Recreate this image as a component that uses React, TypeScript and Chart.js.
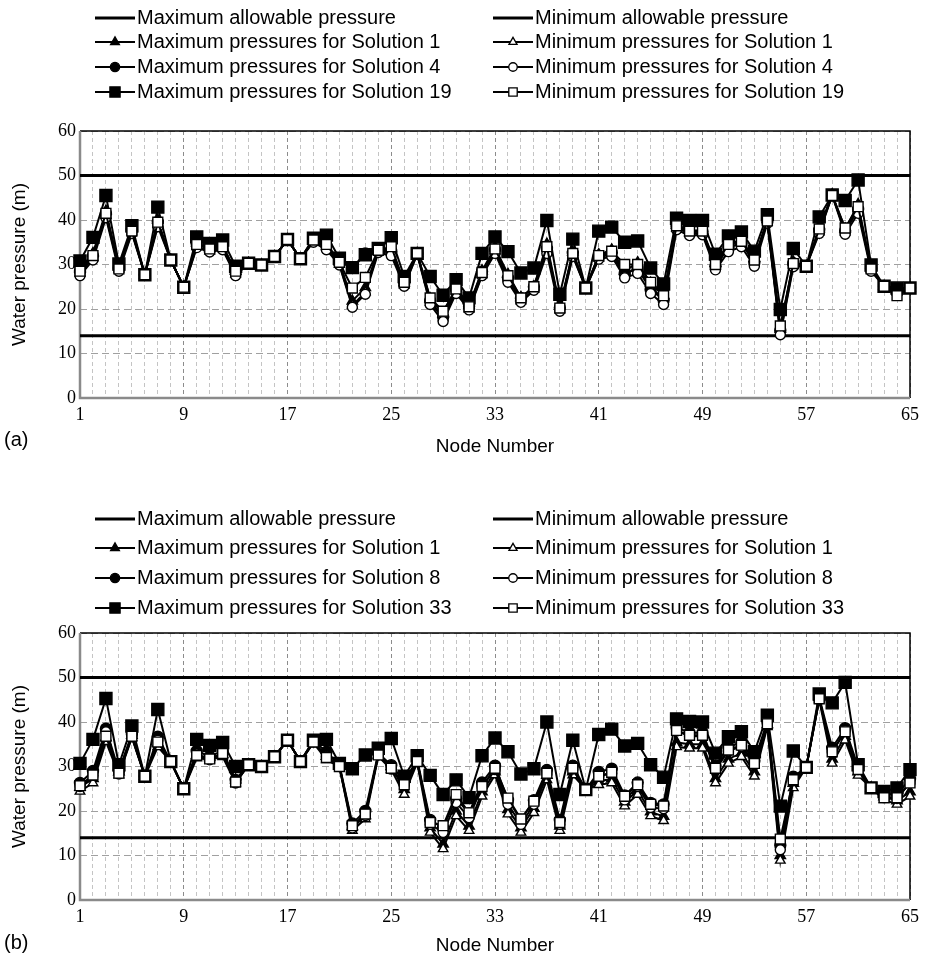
import React, { useEffect, useRef } from 'react';
import { Chart, registerables } from 'chart.js';
import { drawPoint } from 'chart.js/helpers';

Chart.register(...registerables);

const SANS = '"Liberation Sans", Arial, sans-serif';
const SERIF = '"Liberation Serif", "Times New Roman", serif';

// ---------- data ----------
const NODES: number[] = Array.from({ length: 65 }, (_, i) => i + 1);
const TICK_NODES = [1, 9, 17, 25, 33, 41, 49, 57, 65];
const MAX_ALLOWABLE = 50;
const MIN_ALLOWABLE = 14;

const LABELS_A = [
  'Maximum allowable pressure',
  'Minimum allowable pressure',
  'Maximum pressures for Solution 1',
  'Minimum pressures for Solution 1',
  'Maximum pressures for Solution 4',
  'Minimum pressures for Solution 4',
  'Maximum pressures for Solution 19',
  'Minimum pressures for Solution 19',
];
const LABELS_B = [
  'Maximum allowable pressure',
  'Minimum allowable pressure',
  'Maximum pressures for Solution 1',
  'Minimum pressures for Solution 1',
  'Maximum pressures for Solution 8',
  'Minimum pressures for Solution 8',
  'Maximum pressures for Solution 33',
  'Minimum pressures for Solution 33',
];

// Panel (a)
const A_MAX1 = [29, 32.5, 42, 29.5, 38, 27.7, 40, 31, 24.9, 34.8, 33.6, 34.2, 28.5, 30.3, 29.9, 31.8, 35.6, 31.3, 35.6, 34.8, 30.6, 21.8, 24.8, 33.3, 33.6, 25.9, 32.5, 22.3, 19, 24.8, 20.8, 28.6, 33.8, 27.8, 22.6, 25, 34.6, 20.6, 32.8, 24.7, 32.2, 33.3, 28.5, 30.4, 25.8, 23, 38.8, 37.7, 37.6, 30.3, 34.7, 35.4, 31.4, 40.1, 15.5, 30.6, 29.6, 38, 45.7, 38, 43.5, 29.3, 25.1, 24.2, 24.7];
const A_MIN1 = [28, 31.5, 41, 29, 37.3, 27.7, 39, 31, 24.9, 34, 33, 33.6, 27.8, 30.3, 29.9, 31.8, 35.6, 31.3, 35.3, 34, 30, 20.8, 23.8, 33, 32.8, 25.3, 32.4, 21.5, 18, 24, 20, 27.7, 33, 26.8, 21.8, 24.4, 33.8, 19.8, 32.1, 24.7, 31.4, 32.5, 27.5, 29.6, 25, 22.2, 38.2, 37, 37, 29.6, 34, 34.7, 30.7, 39.6, 14.5, 29.9, 29.6, 37.3, 45.6, 37.3, 42.5, 28.8, 25.1, 23.8, 24.7];
const A_MAX4 = [28.5, 32, 41.5, 29.2, 37.8, 27.7, 39.6, 31, 24.9, 34.6, 33.5, 34, 28.2, 30.3, 29.9, 31.8, 35.6, 31.3, 35.5, 34.3, 30.6, 29.3, 32.5, 33.4, 33, 25.8, 32.5, 21.9, 18.2, 24.3, 20.6, 28.4, 33.4, 27, 22.4, 25, 33.5, 20.3, 32.6, 24.7, 32, 32.7, 28, 29, 24.4, 22, 38.6, 37.3, 37.4, 29.6, 33.8, 34.8, 30.5, 39.9, 15.2, 30.3, 29.6, 37.8, 45.6, 37.6, 42.4, 29, 25.1, 24, 24.7];
const A_MIN4 = [27.5, 31, 40.5, 28.5, 37, 27.7, 38.5, 31, 24.9, 33.8, 32.8, 33.3, 27.5, 30.3, 29.9, 31.8, 35.6, 31.3, 35, 33.3, 29.9, 20.4, 23.3, 32.7, 32, 25.1, 32.3, 21, 17.2, 23.5, 19.8, 27.5, 32.5, 26, 21.5, 24.2, 32.5, 19.5, 31.8, 24.7, 31.2, 31.8, 27, 28, 23.5, 21, 37.8, 36.5, 36.7, 28.8, 32.9, 34, 29.6, 39.3, 14.2, 29.5, 29.6, 37, 45.5, 36.8, 41.5, 28.5, 25.1, 23.5, 24.7];
const A_MAX19 = [30.8, 36.1, 45.5, 30.1, 38.7, 27.7, 42.9, 31.0, 24.9, 36.2, 34.7, 35.5, 29.6, 30.3, 29.9, 31.8, 35.6, 31.3, 35.9, 36.6, 31.4, 29.3, 32.2, 33.6, 36.0, 27.3, 32.5, 27.3, 23.1, 26.6, 22.5, 32.5, 36.2, 32.9, 28.1, 29.2, 39.9, 23.3, 35.7, 24.7, 37.5, 38.4, 35.0, 35.3, 29.2, 25.6, 40.4, 39.9, 39.9, 32.3, 36.4, 37.3, 33.0, 41.2, 19.9, 33.6, 29.6, 40.7, 45.6, 44.4, 49.0, 29.9, 25.1, 24.7, 24.7];
const A_MIN19 = [28.5, 32, 41.5, 29, 37.5, 27.7, 39.5, 31, 24.9, 34.5, 33.5, 34, 28.5, 30.3, 29.9, 31.8, 35.6, 31.3, 35.5, 34.5, 30.5, 24.7, 27.1, 33.2, 34, 26, 32.5, 22.5, 19.5, 24.5, 20.5, 28.2, 33.5, 27.5, 22.5, 25, 34, 20.2, 32.5, 24.7, 32, 33, 30, 30, 26, 23, 38.7, 37.5, 37.5, 30, 34.5, 35.2, 31, 39.8, 16.2, 30.2, 29.6, 38, 45.5, 38.2, 43, 29, 25.1, 23, 24.7];

// Panel (b)
const B_MAX1 = [25.3, 27.3, 36.5, 28.8, 37, 27.8, 35.2, 31.1, 25, 32.5, 32, 32.7, 27, 30.4, 30, 32.2, 35.9, 31.1, 35.6, 32.3, 30.3, 16.5, 19, 32.6, 30, 24.8, 31.3, 16.2, 12.6, 20, 16.6, 24.3, 28.8, 20.3, 16.2, 20.6, 28, 16.6, 28.8, 24.8, 26.7, 27.2, 22, 24.6, 19.8, 18.8, 35.4, 35, 35, 27.3, 31.7, 33, 28.8, 39.4, 10, 26.2, 29.8, 45.5, 31.7, 36.8, 28.8, 25.2, 23.2, 22.3, 24.3];
const B_MIN1 = [24.4, 26.3, 35.6, 28.1, 36.5, 27.8, 34.4, 31.1, 25, 31.9, 31.5, 32.2, 26.3, 30.4, 30, 32.2, 35.9, 31.1, 35.3, 31.5, 30, 15.6, 18.2, 32.3, 29.3, 23.7, 30.8, 15.2, 11.5, 18.9, 15.6, 23.3, 28.1, 19.3, 15.2, 19.6, 27, 15.6, 28.1, 24.8, 25.9, 26.3, 21.1, 23.7, 18.9, 17.8, 34.4, 34.1, 34.1, 26.3, 30.7, 32.2, 27.8, 38.9, 8.9, 25.2, 29.8, 45, 30.7, 35.9, 28, 25.2, 22.5, 21.5, 23.3];
const B_MAX8 = [26.3, 29, 38.5, 29, 37.3, 27.8, 36.7, 31.1, 25, 33.5, 32.2, 33.5, 27, 30.4, 30, 32.2, 35.9, 31.1, 35.8, 33.3, 30.4, 17.2, 20, 33, 30.3, 26.6, 31.6, 18, 16.2, 22.8, 19.5, 26.4, 30.2, 22.5, 18, 22.4, 29.2, 18, 30.2, 24.8, 28.8, 29.5, 23.5, 26.4, 21.8, 21.5, 38.8, 37.6, 37.6, 30.2, 34.4, 35.4, 31.3, 40.2, 12.3, 27.7, 29.8, 45.6, 34.2, 38.6, 29.9, 25.2, 23.8, 23.7, 27.2];
const B_MIN8 = [25.5, 28, 37.8, 28.3, 36.7, 27.8, 35.9, 31.1, 25, 32.8, 31.5, 32.9, 26.3, 30.4, 30, 32.2, 35.9, 31.1, 35.5, 32.2, 30, 16.2, 19, 32.6, 29.4, 25.8, 31.1, 17, 15.2, 21.9, 18.5, 25.5, 29.3, 21.5, 17, 21.5, 28.3, 17, 29.4, 24.8, 27.8, 28.5, 22.5, 25.5, 20.8, 20.5, 38, 36.8, 36.8, 29.3, 33.5, 34.5, 30.4, 39.6, 11.3, 26.8, 29.8, 45, 33.3, 38, 29.3, 25.2, 23, 22.8, 26.3];
const B_MAX33 = [30.7, 36.1, 45.3, 30.4, 39.1, 27.8, 42.8, 31.1, 25, 36.1, 34.7, 35.4, 30, 30.4, 30, 32.2, 35.9, 31.1, 35.9, 36.1, 30.7, 29.5, 32.6, 34.1, 36.3, 27.8, 32.4, 28, 23.7, 27, 23, 32.4, 36.4, 33.3, 28.3, 29.5, 40, 23.7, 35.9, 24.8, 37.2, 38.4, 34.6, 35.2, 30.4, 27.6, 40.7, 40.1, 40, 33, 36.7, 37.8, 33.3, 41.5, 21.1, 33.5, 29.8, 46.3, 44.3, 48.9, 30.4, 25.2, 24.4, 25.2, 29.3];
const B_MIN33 = [25.7, 28.1, 36.8, 28.5, 36.8, 27.8, 35.5, 31.1, 25, 32.5, 31.7, 32.9, 26.5, 30.4, 30, 32.2, 35.9, 31.1, 35.5, 32, 30, 16.7, 19.3, 32.6, 29.6, 25.9, 31.1, 17.4, 16.7, 23.7, 19.6, 25.5, 29.6, 22.9, 18.2, 22.2, 28.5, 17.4, 29.6, 24.8, 27.8, 28.7, 23.3, 25.9, 21.5, 21.1, 38.1, 37, 37, 29.6, 33.7, 34.8, 30.7, 39.6, 13.7, 27, 29.8, 45.2, 33.3, 37.8, 29.3, 25.2, 23, 23, 26.3];

// ---------- styles ----------
type Sty = { point: string | false; filled: boolean; radius: number; width: number };
const STYLES: Sty[] = [
  { point: false, filled: true, radius: 0, width: 3 },
  { point: false, filled: true, radius: 0, width: 3 },
  { point: 'triangle', filled: true, radius: 6, width: 2 },
  { point: 'triangle', filled: false, radius: 5.5, width: 2 },
  { point: 'circle', filled: true, radius: 5.5, width: 2 },
  { point: 'circle', filled: false, radius: 5, width: 2 },
  { point: 'rect', filled: true, radius: 8.5, width: 2 },
  { point: 'rect', filled: false, radius: 7, width: 2 },
];

function buildDatasets(labels: string[], series: number[][]) {
  return labels.map((label, i) => {
    const s = STYLES[i];
    return {
      label,
      data: series[i],
      borderColor: '#000',
      backgroundColor: s.filled ? '#000' : '#fff',
      borderWidth: s.width,
      pointStyle: s.point || 'circle',
      pointRadius: s.radius,
      pointHoverRadius: s.radius,
      pointBackgroundColor: s.filled ? '#000' : '#fff',
      pointBorderColor: '#000',
      pointBorderWidth: 1.4,
      fill: false,
      tension: 0,
      order: 8 - i,
    };
  });
}

const decor = {
  id: 'decor',
  beforeDatasetsDraw(chart: any) {
    const { ctx, chartArea: a } = chart;
    ctx.save();
    ctx.setLineDash([]);
    ctx.lineWidth = 1.5;
    ctx.strokeStyle = '#000';
    ctx.beginPath();
    ctx.moveTo(a.left, a.top);
    ctx.lineTo(a.right, a.top);
    ctx.lineTo(a.right, a.bottom);
    ctx.stroke();
    ctx.lineWidth = 2.5;
    ctx.strokeStyle = '#8a8a8a';
    ctx.beginPath();
    ctx.moveTo(a.left, a.top);
    ctx.lineTo(a.left, a.bottom);
    ctx.lineTo(a.right, a.bottom);
    ctx.stroke();
    ctx.restore();
  },
  afterDraw(chart: any, _args: any, opts: any) {
    const { ctx, chartArea: a } = chart;
    ctx.save();
    // legend
    chart.data.datasets.forEach((ds: any, i: number) => {
      const s = STYLES[i];
      const x0 = opts.colX[i % 2];
      const y = opts.rowY[Math.floor(i / 2)];
      ctx.setLineDash([]);
      ctx.strokeStyle = '#000';
      ctx.lineWidth = s.width;
      ctx.beginPath();
      ctx.moveTo(x0, y);
      ctx.lineTo(x0 + 40, y);
      ctx.stroke();
      if (s.point) {
        ctx.fillStyle = s.filled ? '#000' : '#fff';
        ctx.lineWidth = 1.3;
        drawPoint(ctx, { pointStyle: s.point, radius: s.radius * 0.85, borderWidth: 1.3, rotation: 0 } as any, x0 + 20, y);
      }
      ctx.fillStyle = '#000';
      ctx.font = `20px ${SANS}`;
      ctx.textAlign = 'left';
      ctx.textBaseline = 'middle';
      ctx.fillText(ds.label, x0 + 42, y);
    });
    // axis titles
    ctx.fillStyle = '#000';
    ctx.font = `19px ${SANS}`;
    ctx.textAlign = 'center';
    ctx.textBaseline = 'middle';
    ctx.fillText(opts.xTitle, (a.left + a.right) / 2, opts.xTitleY);
    ctx.save();
    ctx.translate(20, (a.top + a.bottom) / 2);
    ctx.rotate(-Math.PI / 2);
    ctx.fillText(opts.yTitle, 0, 0);
    ctx.restore();
    ctx.textAlign = 'left';
    ctx.font = `20px ${SANS}`;
    ctx.fillText(opts.panel, 4, opts.panelY);
    ctx.restore();
  },
};

function makeConfig(labels: string[], series: number[][], h: number, plotTop: number, plotBottom: number, deco: any) {
  return {
    type: 'line',
    data: { labels: NODES.map(String), datasets: buildDatasets(labels, series) },
    plugins: [decor],
    options: {
      animation: false,
      responsive: false,
      maintainAspectRatio: false,
      events: [],
      layout: { padding: { top: plotTop, right: 9, left: 0, bottom: 0 } },
      plugins: { legend: { display: false }, tooltip: { enabled: false }, title: { display: false }, decor: deco },
      scales: {
        x: {
          type: 'category',
          offset: false,
          afterFit: (s: any) => { s.height = h - plotBottom; },
          grid: {
            drawTicks: false,
            color: (c: any) => (TICK_NODES.includes(NODES[c.index]) ? '#8c8c8c' : '#c4c4c4'),
            lineWidth: 1,
            borderDash: [4, 3],
          },
          border: { display: false, dash: [4, 3] },
          ticks: {
            autoSkip: false,
            maxRotation: 0,
            minRotation: 0,
            padding: 6,
            color: '#000',
            font: { family: SERIF, size: 18 },
            callback: (_v: any, i: number) => (TICK_NODES.includes(NODES[i]) ? String(NODES[i]) : ''),
          },
        },
        y: {
          min: 0,
          max: 60,
          afterFit: (s: any) => { s.width = 80; },
          grid: { drawTicks: false, color: '#a0a0a0', lineWidth: 1, borderDash: [7, 4] },
          border: { display: false, dash: [7, 4] },
          ticks: { stepSize: 10, padding: 4, color: '#000', font: { family: SERIF, size: 18 } },
        },
      },
    },
  };
}

function Panel(props: { top: number; h: number; cfg: any }) {
  const ref = useRef<HTMLCanvasElement>(null);
  useEffect(() => {
    const chart = new Chart(ref.current as HTMLCanvasElement, props.cfg);
    return () => chart.destroy();
  }, []);
  return (
    <canvas
      ref={ref}
      width={925}
      height={props.h}
      style={{ position: 'absolute', left: 0, top: props.top, width: 925, height: props.h }}
    />
  );
}

export default function App() {
  const allowMax = NODES.map(() => MAX_ALLOWABLE);
  const allowMin = NODES.map(() => MIN_ALLOWABLE);
  const cfgA = makeConfig(
    LABELS_A,
    [allowMax, allowMin, A_MAX1, A_MIN1, A_MAX4, A_MIN4, A_MAX19, A_MIN19],
    465, 131, 398,
    { colX: [95, 493], rowY: [18, 42, 67, 92], xTitle: 'Node Number', xTitleY: 447, yTitle: 'Water pressure (m)', panel: '(a)', panelY: 440 }
  );
  const cfgB = makeConfig(
    LABELS_B,
    [allowMax, allowMin, B_MAX1, B_MIN1, B_MAX8, B_MIN8, B_MAX33, B_MIN33],
    494, 168, 435,
    { colX: [95, 493], rowY: [54, 83, 113, 143], xTitle: 'Node Number', xTitleY: 481, yTitle: 'Water pressure (m)', panel: '(b)', panelY: 478 }
  );
  return (
    <div style={{ position: 'absolute', left: 0, top: 0, width: 925, height: 959, background: '#fff' }}>
      <Panel top={0} h={465} cfg={cfgA} />
      <Panel top={465} h={494} cfg={cfgB} />
    </div>
  );
}
